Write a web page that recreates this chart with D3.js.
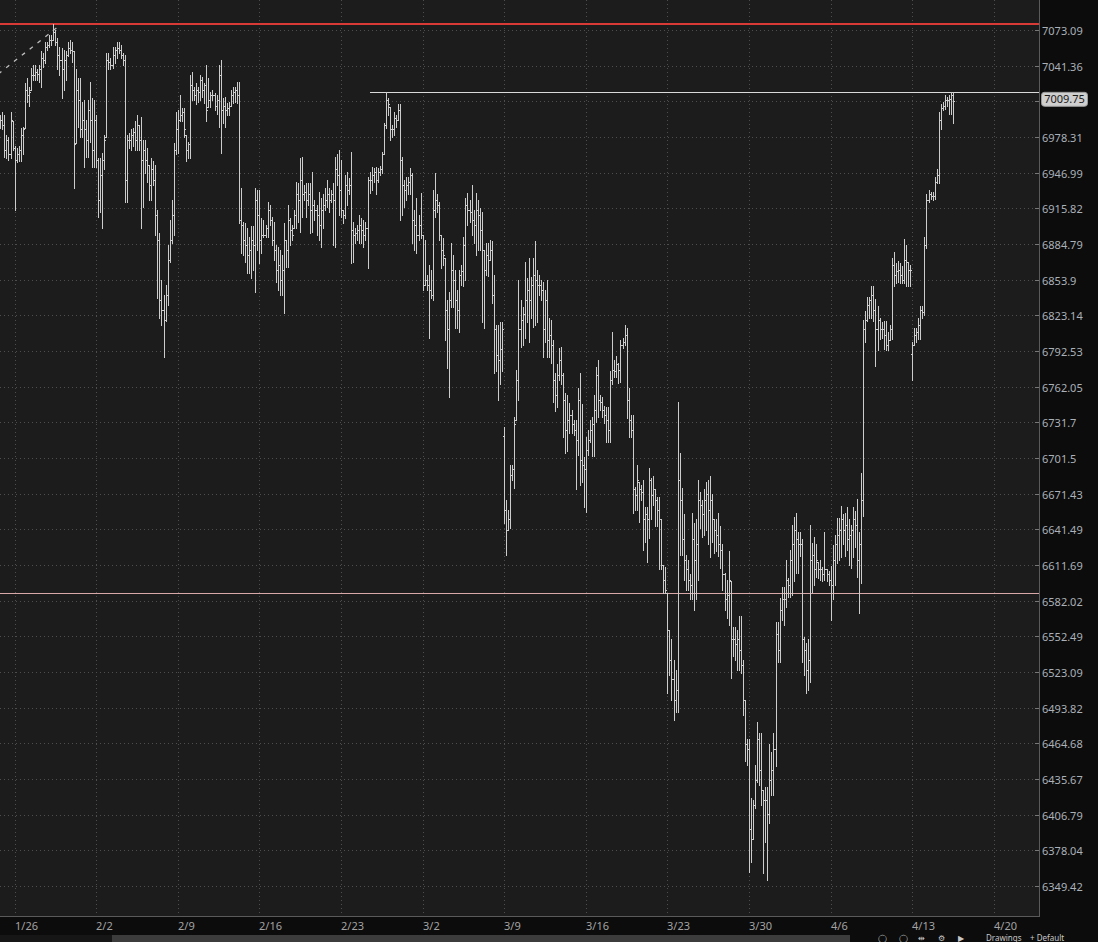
<!DOCTYPE html>
<html><head><meta charset="utf-8">
<script src="https://cdn.jsdelivr.net/npm/d3@7"></script>
<style>body{margin:0;background:#0c0c0c;}svg{display:block;}</style>
</head><body><svg id="c" width="1098" height="942"></svg>
<script>
// ---- data ----
const weekLabels = ["1/26","2/2","2/9","2/16","2/23","3/2","3/9","3/16","3/23","3/30","4/6","4/13","4/20"];
const barsPerWeek = 40;
const firstBarIndex = -7;
const priceTicks = [7073.09,7041.36,7009.84,6978.31,6946.99,6915.82,6884.79,6853.9,6823.14,6792.53,6762.05,6731.7,6701.5,6671.43,6641.49,6611.69,6582.02,6552.49,6523.09,6493.82,6464.68,6435.67,6406.79,6378.04,6349.42];
const hiddenTickLabels = [7009.84];
const lastPrice = 7009.75;
const redLevel = 7078.5;
const highLevel = 7018.3, highLevelStartIndex = 174;
const lowLevel = 6588.1;
const trendStart = {i: -8, v: 7034}, trendEnd = {i: 22, v: 7077};

const opens = [
6995,6993,6989,6967,6976,6963,6992,
6969,6958,6963,6967,6980,6986,7020,7015,7020,7033, 7033,7036,7034,7038,7048,7046,7058,7060,7064,7064, 7071,7062,7051,7046,7038,7046,7051,7057,7055,7054, 6973,7020,7011,6985,6993,6985,6976,7002,6993,6967,
6993,6958,6923,6945,6958,6978,7046,7045,7042,7051, 7055,7057,7055,7051,7046,6941,6976,6976,6980,6983, 6976,6989,6976,6958,6967,6958,6954,6936,6950,6941, 6910,6888,6836,6828,6819,6841,6871,6888,6910,6967,
6985,6993,6998,7000,6980,6967,6972,7024,7020,7015, 7020,7018,7029,7020,7024,7005,7011,7015,7015,7006, 7011,7033,7002,7006,7002,7004,7006,7015,7018,7020, 7015,6906,6901,6888,6884,6875,6880,6888,6884,6923,
6910,6888,6893,6893,6899,6914,6906,6888,6880,6862, 6867,6854,6862,6888,6880,6906,6897,6899,6910,6928, 6923,6941,6928,6930,6923,6928,6914,6919,6914,6910, 6901,6914,6919,6923,6928,6923,6928,6923,6950,6945,
6932,6914,6910,6936,6932,6936,6897,6893,6894,6897, 6901,6897,6893,6899,6941,6941,6945,6948,6941,6948, 6950,6963,6989,7011,7005,6985,6985,6995,6993,7002, 6958,6936,6932,6936,6939,6945,6906,6901,6893,6901,
6893,6849,6854,6849,6845,6841,6914,6923,6919,6893, 6880,6873,6828,6811,6836,6862,6854,6836,6828,6858, 6861,6884,6919,6914,6913,6906,6901,6914,6910,6897, 6880,6862,6875,6871,6880,6841,6811,6789,6785,6794,
6720,6658,6641,6650,6687,6692,6734,6768,6811,6819, 6824,6836,6845,6836,6849,6858,6854,6849,6849,6845, 6811,6836,6802,6806,6798,6768,6755,6772,6785,6772, 6751,6725,6734,6738,6730,6725,6717,6751,6700,6696,
6692,6708,6717,6725,6730,6742,6772,6751,6749,6742, 6738,6734,6725,6768,6776,6775,6781,6776,6798,6800, 6806,6751,6734,6725,6675,6670,6681,6675,6673,6650, 6654,6650,6683,6670,6675,6666,6658,6650,6612,6599,
6588,6558,6533,6517,6500,6508,6683,6666,6633,6616, 6608,6599,6595,6633,6616,6629,6666,6662,6654,6666, 6671,6658,6666,6650,6641,6637,6629,6624,6604,6583, 6587,6598,6550,6550,6546,6550,6541,6529,6500,6464,
6460,6395,6387,6415,6435,6468,6443,6427,6419,6419, 6407,6435,6443,6460,6554,6541,6574,6583,6583,6599, 6595,6616,6629,6641,6633,6629,6629,6550,6541,6525, 6533,6616,6620,6608,6614,6608,6608,6604,6608,6604,
6599,6595,6616,6629,6637,6641,6650,6641,6645,6633, 6637,6641,6650,6645,6616,6629,6666,6811,6819,6832, 6836,6841,6828,6811,6819,6811,6811,6806,6798,6802, 6811,6867,6858,6861,6862,6858,6854,6871,6869,6862,
6790,6798,6806,6809,6815,6828,6826,6884,6923,6928, 6927,6927,6939,6945,6993,7004,7006,7011,7011,7012, 7015];

const highs = [
6998,7000,6998,6980,6978,7000,6992,
6970,6969,6970,6986,6987,7026,7030,7022,7039,7042, 7042,7038,7042,7054,7053,7062,7062,7069,7069,7078, 7073,7066,7058,7057,7055,7054,7062,7064,7062,7054, 7038,7030,7030,7009,7011,6993,7011,7027,7013,7011,
6998,6960,6960,6964,6980,7053,7053,7048,7058,7058, 7062,7062,7060,7053,7051,6980,6982,6985,6986,6992, 6998,6989,6996,6976,6976,6969,6954,6960,6957,6954, 6914,6894,6854,6841,6849,6884,6906,6923,6973,7000,
7002,7015,7004,7004,6980,6974,7033,7036,7022,7026, 7022,7033,7031,7026,7042,7030,7018,7020,7017,7015, 7042,7046,7013,7014,7008,7009,7020,7022,7022,7027, 7027,6934,6904,6903,6899,6891,6900,6900,6934,6932,
6932,6907,6906,6901,6921,6919,6908,6904,6884,6882, 6880,6875,6903,6888,6919,6907,6901,6914,6939,6938, 6960,6961,6936,6938,6938,6938,6948,6923,6919,6930, 6925,6928,6934,6941,6934,6932,6938,6961,6963,6967,
6958,6914,6945,6948,6942,6965,6904,6899,6901,6910, 6907,6906,6904,6943,6948,6952,6951,6952,6951,6953, 6965,6991,7018,7013,7005,6989,7000,6998,7007,7007, 6961,6941,6943,6943,6951,6947,6914,6925,6910,6929,
6893,6888,6858,6867,6862,6932,6947,6928,6921,6893, 6890,6873,6836,6843,6886,6875,6862,6845,6862,6867, 6891,6925,6929,6923,6936,6914,6929,6923,6916,6913, 6880,6886,6886,6888,6887,6858,6815,6815,6817,6817,
6728,6666,6658,6696,6696,6736,6776,6854,6836,6830, 6869,6855,6873,6856,6873,6887,6862,6858,6854,6852, 6845,6854,6821,6819,6802,6774,6781,6795,6796,6774, 6757,6755,6748,6742,6734,6734,6761,6774,6747,6702,
6719,6725,6734,6736,6755,6779,6785,6755,6753,6746, 6745,6745,6775,6809,6785,6788,6782,6802,6804,6815, 6812,6761,6738,6738,6677,6696,6681,6679,6683,6660, 6660,6693,6685,6686,6675,6669,6669,6650,6612,6610,
6588,6558,6550,6533,6525,6749,6706,6676,6654,6620, 6616,6604,6655,6647,6650,6683,6673,6666,6675,6681, 6683,6686,6671,6650,6650,6655,6644,6629,6605,6599, 6623,6598,6560,6560,6558,6569,6569,6533,6500,6468,
6468,6420,6419,6447,6482,6473,6473,6427,6429,6429, 6464,6458,6473,6564,6564,6584,6593,6593,6616,6601, 6624,6645,6652,6655,6639,6639,6633,6552,6547,6550, 6645,6630,6635,6629,6614,6616,6610,6639,6608,6607,
6611,6628,6637,6651,6651,6661,6654,6655,6660,6650, 6645,6660,6657,6667,6639,6689,6819,6827,6839,6839, 6848,6848,6837,6831,6821,6817,6818,6818,6809,6815, 6873,6878,6868,6870,6868,6866,6889,6884,6869,6867,
6800,6812,6812,6821,6831,6831,6891,6928,6932,6930, 6930,6943,6950,7000,7007,7009,7015,7014,7015,7018, 7018];

const lows = [
6986,6985,6961,6960,6958,6960,6967,
6914,6956,6957,6957,6963,6986,7009,7006,7020,7029, 7029,7029,7027,7022,7040,7044,7055,7058,7060,7064, 7060,7038,7033,7013,7020,7029,7050,7053,7045,6934, 6973,6987,6978,6978,6952,6961,6961,6974,6952,6952,
6952,6908,6913,6899,6950,6978,7038,7038,7039,7044, 7048,7053,7048,7042,6921,6921,6969,6967,6970,6967, 6967,6967,6899,6917,6947,6939,6923,6923,6936,6893, 6838,6821,6815,6787,6818,6832,6869,6886,6893,6963,
6964,6992,6992,6978,6957,6960,6960,7011,7011,7007, 7009,7011,7014,7008,6992,7005,7005,7011,7002,6999, 6987,6964,6991,6987,6998,6998,7006,7008,7009,7008, 6903,6877,6875,6869,6860,6860,6855,6862,6843,6880,
6868,6877,6891,6891,6891,6901,6884,6871,6852,6845, 6841,6841,6825,6865,6865,6884,6888,6899,6899,6904, 6895,6908,6923,6908,6919,6894,6895,6906,6893,6888, 6882,6899,6914,6917,6913,6921,6884,6882,6936,6910,
6908,6903,6907,6919,6928,6868,6869,6886,6888,6886, 6886,6882,6888,6864,6929,6932,6939,6928,6939,6945, 6947,6963,6986,6998,6976,6978,6980,6987,6993,6906, 6910,6917,6923,6928,6928,6886,6880,6877,6888,6890,
6845,6849,6845,6804,6838,6836,6908,6913,6888,6864, 6867,6802,6778,6753,6830,6830,6812,6812,6809,6849, 6848,6854,6901,6904,6893,6886,6875,6880,6880,6817, 6812,6858,6857,6871,6834,6774,6775,6751,6764,6775,
6647,6620,6641,6643,6683,6676,6734,6751,6796,6798, 6804,6817,6800,6821,6813,6815,6817,6841,6836,6787, 6800,6787,6787,6782,6749,6741,6745,6768,6764,6719, 6706,6707,6723,6723,6721,6675,6704,6679,6681,6660,
6656,6704,6715,6703,6703,6732,6736,6742,6736,6731, 6715,6715,6715,6764,6770,6770,6765,6766,6795,6798, 6735,6719,6719,6655,6658,6658,6648,6666,6624,6631, 6614,6634,6650,6662,6644,6644,6608,6608,6588,6588,
6506,6521,6500,6484,6490,6490,6620,6620,6599,6591, 6591,6583,6583,6574,6583,6599,6643,6635,6637,6641, 6629,6618,6631,6622,6623,6619,6609,6591,6574,6568, 6562,6518,6536,6533,6525,6525,6522,6488,6450,6447,
6361,6369,6387,6412,6433,6431,6415,6360,6385,6354, 6400,6423,6423,6446,6531,6531,6566,6562,6577,6585, 6585,6587,6598,6605,6605,6619,6531,6521,6506,6508, 6515,6589,6595,6602,6601,6599,6598,6599,6598,6595,
6566,6583,6595,6613,6616,6618,6629,6619,6624,6612, 6609,6618,6627,6602,6572,6597,6653,6800,6818,6821, 6821,6818,6780,6793,6803,6804,6794,6793,6793,6802, 6803,6848,6851,6852,6851,6851,6851,6848,6848,6848,
6768,6798,6800,6803,6803,6821,6823,6881,6921,6924, 6923,6924,6938,6938,6985,7002,7003,7006,6999,6999, 6991];

const closes = [
6993,6989,6967,6976,6963,6993,6969,
6958,6963,6967,6980,6985,7020,7015,7018,7033,7033, 7036,7034,7038,7048,7046,7058,7060,7064,7064,7071, 7062,7051,7046,7038,7046,7051,7057,7055,7054,6972, 7020,7011,6985,6993,6985,6976,7002,6993,6967,6993,
6958,6923,6945,6958,6976,7046,7045,7042,7051,7055, 7057,7055,7051,7046,6941,6976,6976,6980,6983,6976, 6989,6976,6958,6967,6958,6954,6936,6950,6941,6910, 6888,6836,6828,6819,6841,6871,6888,6910,6967,6985,
6993,6998,7000,6985,6967,6972,7024,7020,7015,7020, 7018,7029,7020,7024,7002,7011,7015,7015,7006,7011, 7033,7002,7006,7002,7004,7006,7015,7018,7020,7015, 6906,6901,6888,6884,6875,6880,6888,6884,6923,6910,
6888,6893,6893,6899,6914,6906,6888,6880,6862,6867, 6854,6862,6888,6880,6906,6897,6893,6910,6928,6923, 6941,6928,6930,6923,6928,6914,6919,6914,6910,6901, 6914,6919,6923,6928,6923,6928,6923,6950,6945,6932,
6914,6910,6936,6932,6936,6897,6893,6894,6897,6901, 6897,6893,6899,6941,6941,6945,6948,6941,6948,6950, 6963,6989,7011,7007,6985,6985,6995,6993,7002,6958, 6936,6932,6936,6939,6945,6906,6901,6893,6901,6893,
6849,6854,6849,6845,6841,6914,6923,6919,6893,6880, 6875,6828,6811,6836,6862,6854,6836,6828,6858,6861, 6884,6919,6914,6913,6906,6901,6914,6910,6897,6880, 6862,6875,6871,6880,6841,6811,6789,6785,6794,6811,
6658,6641,6650,6687,6692,6730,6768,6811,6819,6824, 6836,6845,6836,6849,6858,6854,6849,6849,6845,6811, 6836,6802,6806,6798,6768,6755,6772,6785,6772,6751, 6725,6734,6738,6730,6725,6717,6751,6700,6696,6692,
6708,6717,6725,6730,6742,6772,6751,6749,6742,6738, 6734,6725,6768,6776,6775,6781,6776,6798,6800,6806, 6751,6734,6725,6675,6670,6683,6675,6673,6650,6654, 6650,6683,6670,6675,6666,6658,6650,6612,6599,6591,
6558,6533,6517,6500,6508,6683,6666,6633,6616,6608, 6599,6595,6633,6616,6629,6666,6662,6654,6666,6671, 6658,6666,6650,6641,6637,6629,6624,6604,6583,6587, 6599,6550,6550,6546,6550,6541,6529,6500,6464,6460,
6395,6387,6415,6435,6468,6443,6427,6419,6419,6407, 6435,6443,6460,6554,6541,6574,6583,6583,6599,6595, 6616,6629,6641,6633,6629,6629,6550,6541,6525,6533, 6616,6620,6608,6616,6608,6608,6604,6608,6604,6599,
6595,6616,6629,6637,6641,6650,6641,6645,6633,6637, 6641,6650,6645,6616,6629,6666,6811,6819,6832,6836, 6841,6828,6811,6819,6811,6811,6806,6798,6802,6811, 6867,6858,6861,6862,6858,6854,6871,6869,6862,6862,
6798,6806,6809,6815,6828,6826,6884,6923,6928,6927, 6927,6939,6945,6993,7004,7006,7011,7011,7012,7015, 7009.75];

// ---- layout ----
const W = 1098, H = 942;
const plotRight = 1039, plotBottom = 916;
const svg = d3.select("#c");
const C = {
  bg: "#1c1c1c", axisBg: "#0c0c0c", grid: "#4e4e4e", axis: "#5a5a5a",
  bar: "#cccccc", label: "#aab1b8", xlabel: "#a3a3a3", red: "#d93a36", level: "#d9d9d9", low: "#d8a8a8"
};

const x = d3.scaleLinear().domain([0, barsPerWeek * 11]).range([14.6, 14.6 + 2.04 * barsPerWeek * 11]);
const y = d3.scaleLog().domain([6349.42, 7073.09]).range([886, 30]);

svg.append("rect").attr("width", W).attr("height", H).attr("fill", C.axisBg);
svg.append("rect").attr("width", plotRight).attr("height", plotBottom).attr("fill", C.bg);

const plot = svg.append("g");
plot.append("clipPath").attr("id", "clip").append("rect").attr("width", plotRight).attr("height", plotBottom);

// grid
const grid = plot.append("g").attr("stroke", C.grid).attr("stroke-dasharray", "1,3").attr("shape-rendering", "crispEdges");
priceTicks.forEach(v => {
  const yy = Math.round(y(v)) + 0.5;
  grid.append("line").attr("x1", 0).attr("x2", plotRight).attr("y1", yy).attr("y2", yy);
});
weekLabels.forEach((lab, k) => {
  const xx = Math.round(x(k * barsPerWeek)) + 0.5;
  grid.append("line").attr("x1", xx).attr("x2", xx).attr("y1", 0).attr("y2", plotBottom);
});

// level lines
const lv = plot.append("g").attr("clip-path", "url(#clip)").attr("shape-rendering", "crispEdges");
lv.append("rect").attr("x", 0).attr("width", plotRight).attr("y", Math.round(y(redLevel)) - 1).attr("height", 2).attr("fill", C.red);
lv.append("line").attr("x1", x(highLevelStartIndex)).attr("x2", plotRight)
  .attr("y1", Math.round(y(highLevel)) + 0.5).attr("y2", Math.round(y(highLevel)) + 0.5).attr("stroke", C.level);
lv.append("line").attr("x1", 0).attr("x2", plotRight)
  .attr("y1", Math.round(y(lowLevel)) + 0.5).attr("y2", Math.round(y(lowLevel)) + 0.5).attr("stroke", C.low);

// dashed trend line
plot.append("line").attr("clip-path", "url(#clip)")
  .attr("x1", x(trendStart.i)).attr("y1", y(trendStart.v)).attr("x2", x(trendEnd.i)).attr("y2", y(trendEnd.v))
  .attr("stroke", "#bdbdbd").attr("stroke-width", 1.3).attr("stroke-dasharray", "4,6");

// OHLC bars
const bars = d3.range(highs.length).map(k => ({
  i: firstBarIndex + k, o: opens[k], h: highs[k], l: lows[k], c: closes[k]
}));
const bg = plot.append("g").attr("fill", C.bar).attr("shape-rendering", "crispEdges").attr("clip-path", "url(#clip)");
const sel = bg.selectAll("g.bar").data(bars).join("g").attr("class", "bar");
sel.append("rect")
  .attr("x", d => Math.round(x(d.i)))
  .attr("y", d => Math.round(y(d.h)))
  .attr("width", 1)
  .attr("height", d => Math.max(1, Math.round(y(d.l)) - Math.round(y(d.h)) + 1));
sel.append("rect")
  .attr("x", d => Math.round(x(d.i)) - 1).attr("y", d => Math.round(y(d.o))).attr("width", 1).attr("height", 1);
sel.append("rect")
  .attr("x", d => Math.round(x(d.i)) + 1).attr("y", d => Math.round(y(d.c))).attr("width", 1).attr("height", 1);

// axes
const ax = svg.append("g").attr("shape-rendering", "crispEdges");
ax.append("line").attr("x1", plotRight + 0.5).attr("x2", plotRight + 0.5).attr("y1", 0).attr("y2", plotBottom).attr("stroke", C.axis);
ax.append("line").attr("x1", 0).attr("x2", plotRight + 1).attr("y1", plotBottom + 0.5).attr("y2", plotBottom + 0.5).attr("stroke", C.axis);
priceTicks.forEach(v => {
  const yy = Math.round(y(v)) + 0.5;
  ax.append("line").attr("x1", plotRight - 4).attr("x2", plotRight).attr("y1", yy).attr("y2", yy).attr("stroke", "#777");
  if (hiddenTickLabels.includes(v)) return; // covered by the last-price tag in the reference
  svg.append("text").attr("x", 1042).attr("y", yy + 4).text(String(v))
    .attr("font-family", "Noto Sans, sans-serif").attr("font-size", 11).attr("fill", C.label);
});
ax.append("rect").attr("x", plotRight - 5).attr("width", 5).attr("y", Math.round(y(redLevel)) - 1).attr("height", 2).attr("fill", C.red);
ax.append("line").attr("x1", plotRight - 8).attr("x2", plotRight).attr("y1", Math.round(y(highLevel)) + 0.5).attr("y2", Math.round(y(highLevel)) + 0.5).attr("stroke", C.level);

// last price tag
const ty = y(lastPrice) - 2;
svg.append("rect").attr("x", 1041.5).attr("y", ty - 7).attr("width", 46).attr("height", 14).attr("rx", 3)
  .attr("fill", "#cfcfcf").attr("stroke", "#9a9a9a");
svg.append("text").attr("x", 1064.5).attr("y", ty + 4).attr("text-anchor", "middle").text(lastPrice.toFixed(2))
  .attr("font-family", "Noto Sans, sans-serif").attr("font-size", 11).attr("fill", "#1a1a1a");

// x labels
weekLabels.forEach((lab, k) => {
  svg.append("text").attr("x", Math.round(x(k * barsPerWeek))).attr("y", 930).text(lab)
    .attr("font-family", "Noto Sans, sans-serif").attr("font-size", 11).attr("fill", C.xlabel);
});

// bottom strip (scrollbar and toolbar)
svg.append("rect").attr("x", 0).attr("y", 935).attr("width", 112).attr("height", 7).attr("fill", "#161616");
svg.append("rect").attr("x", 112).attr("y", 935).attr("width", 738).attr("height", 7).attr("fill", "#3c3c3c");
const tb = svg.append("g").attr("font-family", "Noto Sans, sans-serif").attr("font-size", 8).attr("fill", "#c8c8c8");
[["◯", 878], ["◯", 899], ["⇹", 918], ["⚙", 938], ["▶", 958]].forEach(([t, xx]) => tb.append("text").attr("x", xx).attr("y", 941).text(t));
tb.append("text").attr("x", 986).attr("y", 941).text("Drawings");
tb.append("text").attr("x", 1030).attr("y", 941).text("+ Default");
</script>
</body></html>
